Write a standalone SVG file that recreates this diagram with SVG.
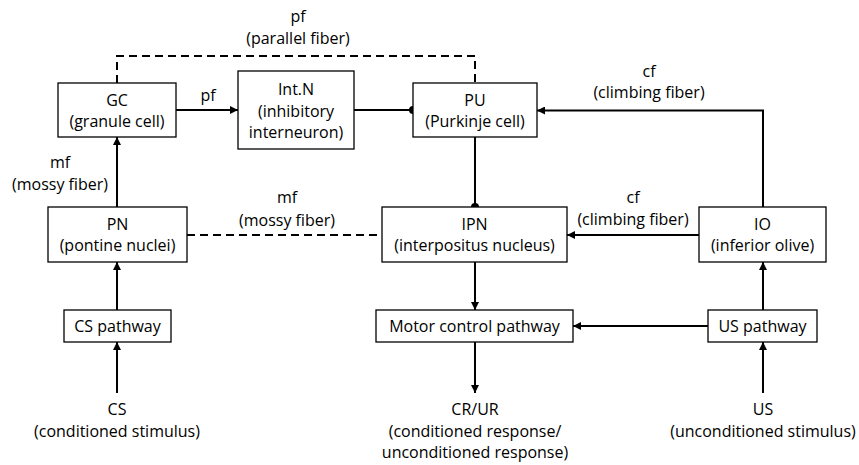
<svg xmlns="http://www.w3.org/2000/svg" width="859" height="465" viewBox="0 0 859 465">
<style>
.box{fill:#fff;stroke:#000;stroke-width:1.3}
text{font-family:"Open Sans","Liberation Sans",sans-serif;font-size:16px;fill:#000;text-anchor:middle}
.ln{fill:none;stroke:#000;stroke-width:2}
.dash{fill:none;stroke:#000;stroke-width:2;stroke-dasharray:8 5}
</style>
<defs>
<marker id="arr" viewBox="0 0 10 10" refX="10" refY="5" markerWidth="4" markerHeight="4" orient="auto" markerUnits="strokeWidth">
<path d="M0,0 L10,5 L0,10 z" fill="#000"/>
</marker>
</defs>
<rect width="859" height="465" fill="#fff"/>
<g id="connectors">
<path class="dash" d="M117,83 V56 H475 V83"/>
<path class="ln" d="M176,110 H238" marker-end="url(#arr)"/>
<path class="ln" d="M354,110 H413"/>
<circle cx="413" cy="110" r="4" fill="#000"/>
<path class="ln" d="M475,137 V207"/>
<circle cx="475" cy="207" r="4" fill="#000"/>
<path class="ln" d="M763,207 V110.5 H537" marker-end="url(#arr)"/>
<path class="ln" d="M117,207 V137" marker-end="url(#arr)"/>
<path class="dash" d="M187,235 H382"/>
<path class="ln" d="M699,235 H567" marker-end="url(#arr)"/>
<path class="ln" d="M117,310 V262" marker-end="url(#arr)"/>
<path class="ln" d="M117,393 V342" marker-end="url(#arr)"/>
<path class="ln" d="M475,262 V310" marker-end="url(#arr)"/>
<path class="ln" d="M475,342 V393" marker-end="url(#arr)"/>
<path class="ln" d="M708,326 H573" marker-end="url(#arr)"/>
<path class="ln" d="M763,310 V262" marker-end="url(#arr)"/>
<path class="ln" d="M763,393 V342" marker-end="url(#arr)"/>
<text x="298" y="21.5">pf</text>
<text x="298" y="44">(parallel fiber)</text>
<text x="208" y="101">pf</text>
<text x="60" y="168">mf</text>
<text x="60" y="190">(mossy fiber)</text>
<text x="287" y="203">mf</text>
<text x="287" y="225.5">(mossy fiber)</text>
<text x="649" y="76.5">cf</text>
<text x="649" y="98">(climbing fiber)</text>
<text x="633" y="203">cf</text>
<text x="633" y="225">(climbing fiber)</text>
</g>
<g id="GC"><rect class="box" x="58" y="83" width="118" height="54"/><text x="117" y="105.5">GC</text><text x="117" y="126.5">(granule cell)</text></g>
<g id="IntN"><rect class="box" x="238" y="71" width="116" height="78"/><text x="296" y="95">Int.N</text><text x="296" y="116.5">(inhibitory</text><text x="296" y="137.5">interneuron)</text></g>
<g id="PU"><rect class="box" x="413" y="83" width="124" height="54"/><text x="475" y="105.5">PU</text><text x="475" y="126.5">(Purkinje cell)</text></g>
<g id="PN"><rect class="box" x="48" y="207" width="139" height="55"/><text x="117.5" y="230">PN</text><text x="117.5" y="251">(pontine nuclei)</text></g>
<g id="IPN"><rect class="box" x="382" y="207" width="185" height="55"/><text x="474.5" y="230">IPN</text><text x="474.5" y="251">(interpositus nucleus)</text></g>
<g id="IO"><rect class="box" x="699" y="207" width="127" height="55"/><text x="762.5" y="230">IO</text><text x="762.5" y="251">(inferior olive)</text></g>
<g id="CSpath"><rect class="box" x="64" y="310" width="107" height="32"/><text x="117.5" y="331.5">CS pathway</text></g>
<g id="Motor"><rect class="box" x="376" y="310" width="197" height="32"/><text x="474.5" y="331.5">Motor control pathway</text></g>
<g id="USpath"><rect class="box" x="708" y="310" width="109" height="32"/><text x="762.5" y="331.5">US pathway</text></g>
<g id="CS"><text x="117" y="415">CS</text><text x="117" y="436.5">(conditioned stimulus)</text></g>
<g id="CRUR"><text x="475" y="415">CR/UR</text><text x="475" y="436.5">(conditioned response/</text><text x="475" y="457.5">unconditioned response)</text></g>
<g id="US"><text x="763" y="415">US</text><text x="763" y="436.5">(unconditioned stimulus)</text></g>
</svg>
